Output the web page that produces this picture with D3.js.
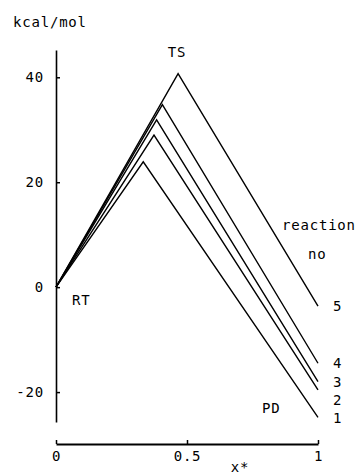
<!DOCTYPE html>
<html>
<head>
<meta charset="utf-8">
<script src="https://cdn.jsdelivr.net/npm/d3@7"></script>
<style>
html,body{margin:0;padding:0;background:#fff;}
text{font-family:"DejaVu Sans Mono",monospace;font-size:14px;fill:#000;letter-spacing:0.8px;}
</style>
</head>
<body>
<svg id="chart" width="356" height="475"></svg>
<script>
const reactions = ["1","2","3","4","5"];
const tsX = [0.333, 0.374, 0.384, 0.406, 0.466];
const tsE = [23.9, 29.0, 31.9, 34.8, 40.7];
const pdE = [-24.8, -19.6, -18.0, -14.5, -3.6];
const yTicks = [-20, 0, 20, 40];
const xTicks = [0, 0.5, 1];
const xTickLabels = ["0", "0.5", "1"];

const svg = d3.select("#chart");
const x = d3.scaleLinear().domain([0, 1]).range([56, 318]);
const y = d3.scaleLinear().domain([-25.7, 45.2]).range([422, 50]);

// y axis
const gy = svg.append("g").attr("transform", "translate(56,0)")
  .call(d3.axisLeft(y).tickValues(yTicks).tickSizeInner(-4).tickSizeOuter(0).tickPadding(12)
        .tickFormat(d => d < 0 ? "-" + Math.abs(d) : String(d)));
gy.select(".domain").attr("stroke-width", 1.6);
gy.selectAll(".tick line").attr("stroke-width", 1.5);
gy.selectAll("text").attr("font-family", null).attr("font-size", null);

// x axis
const gx = svg.append("g").attr("transform", "translate(0,444)")
  .call(d3.axisBottom(x).tickValues(xTicks).tickSizeInner(-4).tickSizeOuter(0).tickPadding(7)
        .tickFormat((d, i) => xTickLabels[i]));
gx.select(".domain").attr("stroke-width", 2);
gx.selectAll(".tick line").attr("stroke-width", 1.5);
gx.selectAll("text").attr("font-family", null).attr("font-size", null);

// reaction profiles
const line = d3.line().x(d => x(d[0])).y(d => y(d[1]));
reactions.forEach((r, i) => {
  const pts = [[0, 0], [tsX[i], tsE[i]], [1, pdE[i]]];
  svg.append("path").attr("d", line(pts)).attr("fill", "none")
    .attr("stroke", "#000").attr("stroke-width", 1.4).attr("stroke-linejoin", "miter");
});

// end labels, dodged so they do not overlap
const order = d3.range(reactions.length).sort((a, b) => pdE[b] - pdE[a]);
let prev = -Infinity;
order.forEach(i => {
  let ly = Math.max(y(pdE[i]) + 5, prev + 18);
  prev = ly;
  svg.append("text").attr("x", x(1) + 15).attr("y", ly).text(reactions[i]);
});

// labels
svg.append("text").attr("x", 13).attr("y", 27).text("kcal/mol");
svg.append("text").attr("x", 177).attr("y", 57).attr("text-anchor", "middle").text("TS");
svg.append("text").attr("x", 72).attr("y", 305).text("RT");
svg.append("text").attr("x", 262).attr("y", 413).text("PD");
svg.append("text").attr("x", 282).attr("y", 230).text("reaction");
svg.append("text").attr("x", 308).attr("y", 259).text("no");
svg.append("text").attr("x", 240).attr("y", 472).attr("text-anchor", "middle").text("x*");
</script>
</body>
</html>
